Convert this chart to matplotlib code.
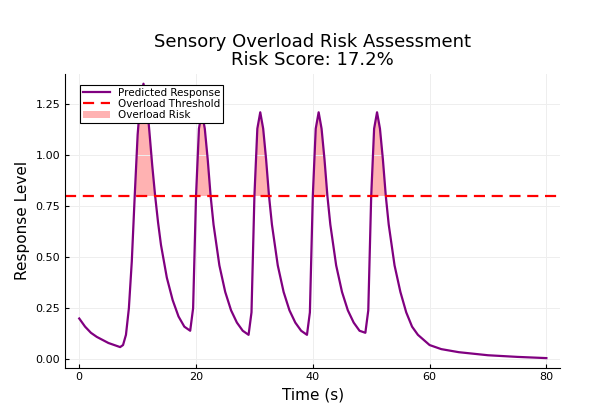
import matplotlib
matplotlib.use("Agg")
import matplotlib.pyplot as plt
import numpy as np

threshold = 0.8
time_s = [0, 1, 2, 3, 4, 5, 6, 7, 7.5, 8, 8.5, 9, 9.5, 10, 10.5, 11, 11.5, 12, 12.5, 13, 13.5, 14, 15, 16, 17, 18, 19,
          19.5, 20, 20.5, 21, 21.5, 22, 22.5, 23, 24, 25, 26, 27, 28, 29,
          29.5, 30, 30.5, 31, 31.5, 32, 32.5, 33, 34, 35, 36, 37, 38, 39,
          39.5, 40, 40.5, 41, 41.5, 42, 42.5, 43, 44, 45, 46, 47, 48, 49,
          49.5, 50, 50.5, 51, 51.5, 52, 52.5, 53, 54, 55, 56, 57, 58, 60, 62, 65, 70, 75, 80]
response = [0.20, 0.16, 0.13, 0.11, 0.095, 0.08, 0.07, 0.06, 0.07, 0.12, 0.25, 0.48, 0.80, 1.10, 1.28, 1.35, 1.28, 1.12, 0.95, 0.80, 0.67, 0.56, 0.40, 0.29, 0.21, 0.16, 0.14,
            0.25, 0.80, 1.13, 1.21, 1.13, 0.98, 0.80, 0.66, 0.46, 0.33, 0.24, 0.18, 0.14, 0.12,
            0.23, 0.80, 1.13, 1.21, 1.13, 0.98, 0.80, 0.66, 0.46, 0.33, 0.24, 0.18, 0.14, 0.12,
            0.23, 0.80, 1.13, 1.21, 1.13, 0.98, 0.80, 0.66, 0.46, 0.33, 0.24, 0.18, 0.14, 0.13,
            0.24, 0.80, 1.13, 1.21, 1.13, 0.98, 0.80, 0.66, 0.46, 0.33, 0.23, 0.16, 0.12, 0.07, 0.05, 0.035, 0.02, 0.012, 0.006]

t = np.array(time_s); y = np.array(response)

fig = plt.figure(figsize=(5.93, 4.2), dpi=100)
ax = fig.add_axes([0.11, 0.125, 0.835, 0.7])
ax.fill_between(t, threshold, y, where=y > threshold, interpolate=True,
                color="#ff6666", alpha=0.5, linewidth=0, label="Overload Risk")
ax.plot(t, y, color="purple", lw=1.6, label="Predicted Response")
ax.axhline(threshold, color="red", ls=(0, (5, 3)), lw=1.6, label="Overload Threshold")
ax.set_xlim(-2.4, 82.4)
ax.set_ylim(-0.04, 1.4)
ax.set_xticks([0, 20, 40, 60, 80])
ax.set_yticks([0, 0.25, 0.5, 0.75, 1.0, 1.25])
ax.set_yticklabels(["0.00", "0.25", "0.50", "0.75", "1.00", "1.25"])
ax.grid(True, color="#eeeeee", lw=0.7)
for s in ["top", "right"]:
    ax.spines[s].set_visible(False)
ax.tick_params(labelsize=8, direction="in", length=3)
ax.set_xlabel("Time (s)", fontsize=11)
ax.set_ylabel("Response Level", fontsize=11)
ax.set_title("Sensory Overload Risk Assessment\nRisk Score: 17.2%", fontsize=13, linespacing=1.0)
h, l = ax.get_legend_handles_labels()
order = [1, 2, 0]
leg = ax.legend([h[i] for i in order], [l[i] for i in order], loc="upper left",
                bbox_to_anchor=(0.02, 0.98), fontsize=7.5, fancybox=False, framealpha=1,
                edgecolor="black", borderpad=0.3, labelspacing=0.1, handlelength=2.5)
leg.get_frame().set_linewidth(0.8)
fig.savefig("out.png", dpi=100)
